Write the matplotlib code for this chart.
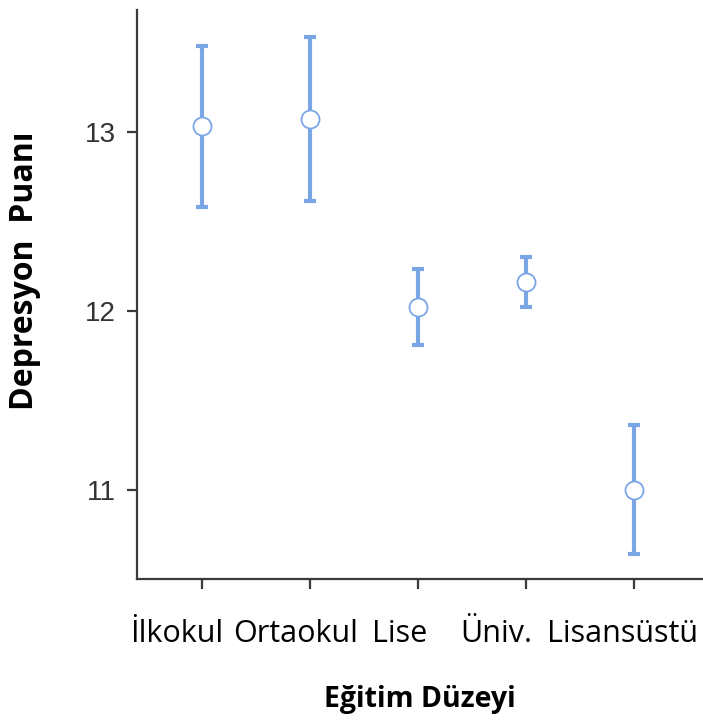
import matplotlib.pyplot as plt
import matplotlib.transforms as mtransforms

# Mean depression score per education level, with CI half-widths
levels = ['İlkokul', 'Ortaokul', 'Lise', 'Üniv.', 'Lisansüstü']
means = [13.03, 13.07, 12.02, 12.16, 11.00]
ci_half = [0.45, 0.46, 0.21, 0.14, 0.36]
y_ticks = [11, 12, 13]

blue = '#7aa6e6'
axis_grey = '#3a3a3a'

fig = plt.figure(figsize=(7.03, 7.28), dpi=100)
ax = fig.add_axes([137 / 703, 1 - 579 / 728, 566 / 703, 569 / 728])

x = list(range(len(levels)))
ax.errorbar(x, means, yerr=ci_half, fmt='none', ecolor=blue, elinewidth=3,
            capsize=4, capthick=3, zorder=2)
ax.plot(x, means, 'o', markersize=13, markerfacecolor='white',
        markeredgecolor=blue, markeredgewidth=1.3, zorder=3)

ax.set_xlim(-0.6, 4.64)
ax.set_ylim(10.5, 13.68)

ax.set_yticks(y_ticks)
ax.set_yticklabels([str(t) for t in y_ticks], fontsize=20, color='#333333',
                   family='Liberation Sans')
ax.set_xticks(x)
ax.set_xticklabels([])

# category names run together as one line, so each sits a little left of its tick
nudges = [-25, -14, -18, -30, -11]
for xi, name, dx in zip(x, levels, nudges):
    off = mtransforms.ScaledTranslation(dx / 100, -63 / 100, fig.dpi_scale_trans)
    ax.text(xi, 0, name, transform=ax.get_xaxis_transform() + off,
            ha='center', va='baseline', fontsize=22, family='Open Sans',
            color='black', clip_on=False)

ax.tick_params(axis='both', length=7, width=1.6, color=axis_grey)
ax.tick_params(axis='y', pad=8)

for side in ['top', 'right']:
    ax.spines[side].set_visible(False)
for side in ['left', 'bottom']:
    ax.spines[side].set_linewidth(1.6)
    ax.spines[side].set_color(axis_grey)

fig.text(420 / 703, 1 - 700 / 728, 'Eğitim Düzeyi', fontsize=20.5, fontweight='bold',
         family='Open Sans', ha='center', va='center')
fig.text(25 / 703, 1 - 271 / 728, 'Depresyon  Puanı', fontsize=23, fontweight='bold',
         family='Open Sans', ha='center', va='center', rotation=90)

fig.savefig('out.png', dpi=100)
